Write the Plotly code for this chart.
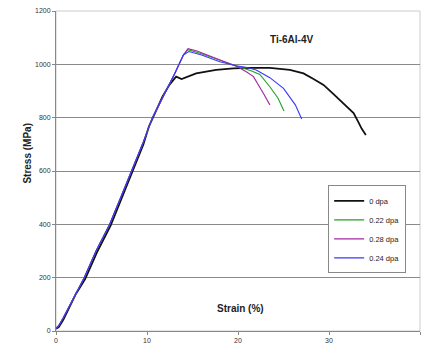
import plotly.graph_objects as go

# ---- data ----
rise_x = [0.0, 0.3, 0.8, 1.5, 2.2, 3.1, 4.4, 5.9, 7.1, 8.3, 9.5, 10.6, 11.5, 12.5, 13.05, 14.0]
rise_y = [10, 20, 50, 95, 145, 200, 300, 400, 500, 600, 700, 800, 860, 930, 966, 1035]

black_x = [0.0, 0.3, 0.8, 1.5, 2.2, 3.2, 4.5, 6.0, 7.2, 8.4, 9.6, 10.2, 11.0, 11.7, 12.5, 13.2,
           13.8, 14.5, 15.4, 17.6, 19.5, 21.5, 23.5, 25.7, 27.2, 28.3, 29.4, 30.5, 31.6, 32.7,
           33.2, 33.6, 34.05]
black_y = [8, 15, 42, 88, 140, 195, 295, 395, 495, 595, 700, 766, 830, 879, 925, 954,
           945, 955, 966, 979, 985, 987, 987, 979, 966, 945, 923, 888, 854, 817,
           785, 758, 735]

green_x = rise_x + [14.5, 16.0, 18.0, 20.0, 21.5, 22.4, 23.5, 24.4, 25.05]
green_y = rise_y + [1055, 1040, 1015, 992, 975, 962, 916, 873, 825]

purple_x = rise_x + [14.5, 15.5, 17.0, 18.5, 20.0, 21.0, 21.7, 22.8, 23.5]
purple_y = rise_y + [1059, 1050, 1030, 1010, 990, 970, 954, 891, 848]

blue_x = rise_x + [14.6, 16.0, 18.0, 19.8, 21.0, 22.0, 23.5, 25.0, 26.3, 27.0]
blue_y = rise_y + [1048, 1035, 1010, 995, 988, 979, 950, 910, 848, 795]

series = [
    ("0 dpa", black_x, black_y, "#111111", 1.8),
    ("0.22 dpa", green_x, green_y, "#22a022", 1.1),
    ("0.28 dpa", purple_x, purple_y, "#a028a0", 1.1),
    ("0.24 dpa", blue_x, blue_y, "#3838ff", 1.1),
]

x_ticks = [0, 10, 20, 30, 40]
y_ticks = [0, 200, 400, 600, 800, 1000, 1200]

fig = go.Figure()
for name, xs, ys, col, w in series:
    fig.add_trace(go.Scatter(x=xs, y=ys, mode="lines", name=name,
                             line=dict(color=col, width=w)))

font = "Liberation Sans, Arial, sans-serif"
fig.update_layout(
    width=422, height=349,
    margin=dict(l=56, r=2, t=11, b=18, autoexpand=False),
    paper_bgcolor="white", plot_bgcolor="white",
    font=dict(family=font, size=7, color="#333333"),
    showlegend=True,
    legend=dict(x=0.962, xanchor="right", y=0.455, yanchor="top",
                bgcolor="white", bordercolor="#888888", borderwidth=1,
                font=dict(size=7.5, color="#222222"),
                tracegroupgap=0, itemwidth=30),
    xaxis=dict(range=[0, 40], tickvals=x_ticks, showgrid=False, zeroline=False,
               showline=True, linecolor="#888888", linewidth=1,
               ticks="outside", ticklen=3, tickcolor="#888888",
               tickfont=dict(size=7, color="#333333")),
    yaxis=dict(range=[0, 1200], tickvals=y_ticks, showgrid=True, gridcolor="#8a8a8a",
               gridwidth=1, zeroline=False,
               showline=True, linecolor="#888888", linewidth=1,
               ticks="outside", ticklen=3, tickcolor="#888888",
               tickfont=dict(size=7, color="#333333")),
    shapes=[dict(type="rect", xref="paper", yref="paper", x0=0, x1=1, y0=0, y1=1,
                 line=dict(color="#cccccc", width=1), layer="below")],
    annotations=[
        dict(text="<b>Stress (MPa)</b>", xref="paper", yref="paper", x=-0.098, y=0.557,
             textangle=-90, showarrow=False, font=dict(size=10, color="#222222")),
        dict(text="<b>Strain (%)</b>", xref="x", yref="paper", x=20.3, y=0.046,
             showarrow=False, font=dict(size=10, color="#222222")),
        dict(text="<b>Ti-6Al-4V</b>", xref="paper", yref="paper", x=0.712, y=0.935,
             showarrow=False, font=dict(size=10, color="#222222")),
    ],
)

fig.write_html("out.html",
               config={"displayModeBar": False},
               post_script="document.body.style.margin='0';document.body.style.overflow='hidden';")
